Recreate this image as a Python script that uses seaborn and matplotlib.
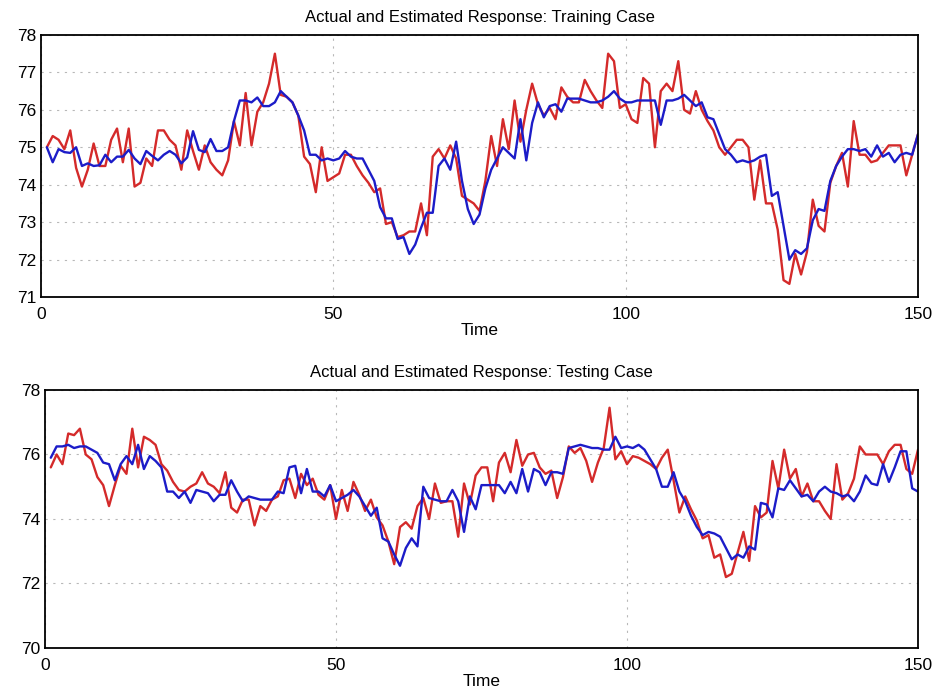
import matplotlib
matplotlib.use('Agg')
import matplotlib.pyplot as plt
import seaborn as sns
import pandas as pd
import numpy as np

# time axis (1..150)
time = list(range(1, 151))

# training case: actual (red) and estimated (blue) response
train_actual = [
    75.0, 75.3, 75.2, 74.95, 75.45, 74.45, 73.95, 74.4, 75.1, 74.5,
    74.5, 75.2, 75.5, 74.6, 75.5, 73.95, 74.05, 74.7, 74.5, 75.45,
    75.45, 75.2, 75.05, 74.4, 75.45, 74.9, 74.4, 75.05, 74.6, 74.4,
    74.25, 74.65, 75.7, 75.05, 76.45, 75.05, 75.95, 76.2, 76.7, 77.5,
    76.4, 76.35, 76.2, 75.85, 74.75, 74.55, 73.8, 75.0, 74.1, 74.2,
    74.3, 74.8, 74.8, 74.5, 74.25, 74.05, 73.8, 73.9, 72.95, 73.0,
    72.6, 72.65, 72.75, 72.75, 73.5, 72.65, 74.75, 74.95, 74.7, 75.05,
    74.7, 73.7, 73.6, 73.5, 73.3, 74.1, 75.3, 74.5, 75.75, 74.95,
    76.25, 75.15, 76.0, 76.7, 76.15, 75.85, 76.05, 75.75, 76.6, 76.35,
    76.2, 76.2, 76.8, 76.5, 76.25, 76.05, 77.5, 77.3, 76.05, 76.15,
    75.75, 75.65, 76.85, 76.7, 75.0, 76.5, 76.7, 76.5, 77.3, 76.0,
    75.9, 76.5, 76.0, 75.7, 75.45, 75.0, 74.8, 75.0, 75.2, 75.2,
    75.0, 73.6, 74.65, 73.5, 73.5, 72.8, 71.45, 71.35, 72.15, 71.6,
    72.2, 73.6, 72.9, 72.75, 74.05, 74.5, 74.85, 73.95, 75.7, 74.8,
    74.8, 74.6, 74.65, 74.85, 75.05, 75.05, 75.05, 74.25, 74.8, 75.35,
]
train_estimate = [
    75.0, 74.6, 74.95, 74.87, 74.85, 75.0, 74.5, 74.57, 74.5, 74.52,
    74.8, 74.6, 74.75, 74.75, 74.93, 74.7, 74.55, 74.9, 74.77, 74.65,
    74.8, 74.9, 74.8, 74.57, 74.73, 75.43, 74.93, 74.87, 75.22, 74.9,
    74.9, 75.0, 75.7, 76.25, 76.25, 76.2, 76.33, 76.1, 76.1, 76.2,
    76.5, 76.35, 76.2, 75.85, 75.45, 74.8, 74.8, 74.65, 74.7, 74.65,
    74.7, 74.9, 74.75, 74.7, 74.7, 74.4, 74.1, 73.4, 73.1, 73.1,
    72.55, 72.6, 72.15, 72.4, 72.85, 73.25, 73.25, 74.5, 74.7, 74.4,
    75.15, 74.1, 73.35, 72.95, 73.2, 73.9, 74.4, 74.7, 75.0, 74.85,
    74.7, 75.75, 74.65, 75.65, 76.2, 75.8, 76.1, 76.15, 75.95, 76.3,
    76.3, 76.3, 76.25, 76.2, 76.2, 76.25, 76.35, 76.5, 76.3, 76.2,
    76.2, 76.25, 76.25, 76.25, 76.25, 75.6, 76.25, 76.25, 76.3, 76.4,
    76.25, 76.1, 76.2, 75.8, 75.75, 75.35, 74.95, 74.8, 74.6, 74.65,
    74.6, 74.65, 74.75, 74.8, 73.7, 73.8, 72.9, 72.0, 72.25, 72.15,
    72.3, 73.05, 73.35, 73.3, 74.1, 74.5, 74.75, 74.95, 74.95, 74.9,
    74.95, 74.75, 75.05, 74.75, 74.85, 74.6, 74.8, 74.85, 74.8, 75.35,
]

# testing case: actual (red) and estimated (blue) response
test_actual = [
    75.6, 76.0, 75.7, 76.65, 76.6, 76.8, 76.0, 75.85, 75.3, 75.05,
    74.4, 75.05, 75.65, 75.4, 76.8, 75.6, 76.55, 76.45, 76.3, 75.7,
    75.5, 75.15, 74.9, 74.85, 75.0, 75.1, 75.45, 75.1, 75.0, 74.8,
    75.45, 74.35, 74.2, 74.6, 74.6, 73.8, 74.4, 74.25, 74.6, 74.7,
    75.2, 75.25, 74.65, 75.4, 75.05, 75.25, 74.75, 74.6, 75.05, 74.0,
    74.9, 74.25, 75.15, 74.75, 74.25, 74.6, 74.05, 73.8, 73.3, 72.6,
    73.75, 73.9, 73.7, 74.4, 74.65, 74.0, 75.1, 74.5, 74.55, 74.55,
    73.45, 75.1, 74.45, 75.35, 75.6, 75.6, 74.55, 75.75, 76.05, 75.45,
    76.45, 75.65, 76.0, 76.05, 75.6, 75.4, 75.5, 74.65, 75.3, 76.25,
    76.05, 76.2, 75.8, 75.15, 75.75, 76.2, 77.45, 75.85, 76.1, 75.7,
    75.95, 75.9, 75.8, 75.7, 75.55, 75.9, 76.15, 75.2, 74.2, 74.7,
    74.3, 73.95, 73.4, 73.5, 72.8, 72.9, 72.2, 72.3, 72.95, 73.6,
    72.7, 74.4, 74.05, 74.2, 75.8, 74.95, 76.15, 75.25, 75.55, 74.7,
    75.1, 74.55, 74.55, 74.25, 74.0, 75.7, 74.6, 74.8, 75.25, 76.25,
    76.0, 76.0, 76.0, 75.7, 76.1, 76.3, 76.3, 75.55, 75.4, 76.15,
]
test_estimate = [
    75.9, 76.25, 76.25, 76.3, 76.2, 76.25, 76.25, 76.15, 76.05, 75.75,
    75.7, 75.2, 75.7, 75.95, 75.7, 76.3, 75.55, 75.95, 75.8, 75.6,
    74.85, 74.85, 74.65, 74.85, 74.5, 74.9, 74.85, 74.8, 74.55, 74.75,
    74.75, 75.2, 74.85, 74.55, 74.7, 74.65, 74.6, 74.6, 74.6, 74.85,
    74.8, 75.6, 75.65, 74.8, 75.55, 74.85, 74.85, 74.7, 75.05, 74.55,
    74.65, 74.75, 74.9, 74.7, 74.4, 74.1, 74.35, 73.4, 73.3, 72.9,
    72.55, 73.1, 73.4, 73.15, 75.0, 74.65, 74.6, 74.55, 74.55, 74.9,
    74.55, 73.6, 74.7, 74.3, 75.05, 75.05, 75.05, 75.05, 74.8, 75.15,
    74.8, 75.55, 74.85, 75.55, 75.45, 75.05, 75.45, 75.45, 75.4, 76.2,
    76.25, 76.3, 76.25, 76.2, 76.2, 76.15, 76.15, 76.55, 76.2, 76.25,
    76.2, 76.3, 76.15, 75.85, 75.55, 75.0, 75.0, 75.45, 74.85, 74.55,
    74.1, 73.75, 73.5, 73.6, 73.55, 73.45, 73.1, 72.75, 72.9, 72.8,
    73.15, 73.05, 74.5, 74.45, 74.05, 74.95, 74.9, 75.2, 74.95, 74.7,
    74.75, 74.55, 74.85, 75.0, 74.85, 74.8, 74.7, 74.75, 74.55, 74.85,
    75.35, 75.1, 75.05, 75.7, 75.15, 75.6, 76.1, 76.1, 74.95, 74.85,
]

train_df = pd.DataFrame({'Time': time, 'Actual': train_actual, 'Estimated': train_estimate})
test_df = pd.DataFrame({'Time': time, 'Actual': test_actual, 'Estimated': test_estimate})

sns.set_style('white')
plt.rcParams['font.family'] = ['Liberation Sans', 'DejaVu Sans']
plt.rcParams['text.color'] = 'black'
plt.rcParams['axes.labelcolor'] = 'black'

red = '#d42a2a'
blue = '#1c1cc8'

fig = plt.figure(figsize=(9.43, 6.9), dpi=100)
ax1 = fig.add_axes([0.0435, 0.5696, 0.930, 0.3797])
ax2 = fig.add_axes([0.0477, 0.0609, 0.9258, 0.3739])

panels = [
    (ax1, train_df, 'Actual and Estimated Response: Training Case', (71, 78), np.arange(71, 79, 1)),
    (ax2, test_df, 'Actual and Estimated Response: Testing Case', (70, 78), np.arange(70, 79, 2)),
]

for ax, df, title, ylim, yticks in panels:
    sns.lineplot(data=df, x='Time', y='Actual', ax=ax, color=red, linewidth=1.7)
    sns.lineplot(data=df, x='Time', y='Estimated', ax=ax, color=blue, linewidth=1.7)
    ax.set_xlim(0, 150)
    ax.set_ylim(*ylim)
    ax.set_xticks([0, 50, 100, 150])
    ax.set_yticks(yticks)
    ax.grid(True, linestyle=(0, (2, 5)), color='#b8b8b8', linewidth=0.8)
    ax.tick_params(direction='in', length=5, labelsize=12.5, colors='black')
    ax.tick_params(axis='x', pad=7)
    ax.tick_params(axis='y', pad=3)
    for s in ax.spines.values():
        s.set_color('black')
        s.set_linewidth(1.3)
    ax.set_title(title, fontsize=12, pad=9, color='black')
    ax.set_xlabel('Time', fontsize=12.5, labelpad=1, color='black')
    ax.set_ylabel('')

fig.savefig('out.png', dpi=100)
